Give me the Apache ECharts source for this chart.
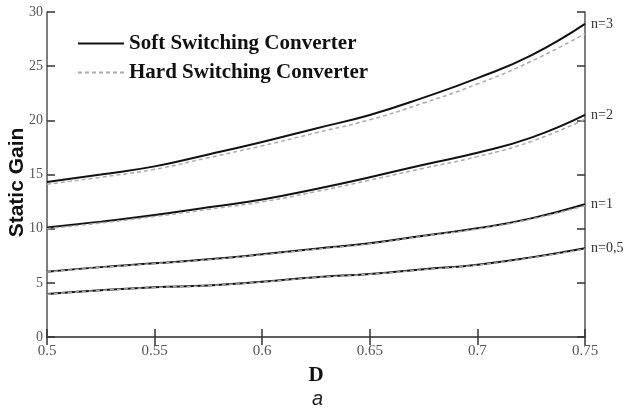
<!DOCTYPE html>
<html>
<head>
<meta charset="utf-8">
<script src="https://cdn.jsdelivr.net/npm/echarts@6/dist/echarts.min.js"></script>
<style>html,body{margin:0;padding:0;background:#fff}#c{width:624px;height:414px}</style>
</head>
<body>
<div id="c"></div>
<script>
var D = [0.5, 0.525, 0.55, 0.575, 0.6, 0.625, 0.65, 0.675, 0.7, 0.725, 0.75];
var softN05 = [3.97, 4.32, 4.59, 4.76, 5.1, 5.52, 5.82, 6.25, 6.68, 7.35, 8.2];
var softN1  = [6.03, 6.45, 6.8, 7.17, 7.63, 8.15, 8.65, 9.35, 10.03, 10.95, 12.25];
var softN2  = [10.1, 10.65, 11.26, 11.97, 12.7, 13.67, 14.75, 15.9, 17.0, 18.4, 20.5];
var softN3  = [14.3, 15.0, 15.75, 16.85, 18.0, 19.25, 20.5, 22.1, 23.9, 26.0, 28.9];
var hardN05 = [3.95, 4.3, 4.57, 4.74, 5.07, 5.49, 5.79, 6.21, 6.64, 7.3, 8.12];
var hardN1  = [6.0, 6.42, 6.77, 7.13, 7.59, 8.1, 8.6, 9.3, 9.97, 10.88, 12.12];
var hardN2  = [10.0, 10.52, 11.12, 11.78, 12.48, 13.42, 14.48, 15.58, 16.65, 18.05, 20.1];
var hardN3  = [14.1, 14.75, 15.48, 16.55, 17.65, 18.85, 20.05, 21.6, 23.35, 25.45, 28.0];
var nLabels = ['n=0,5', 'n=1', 'n=2', 'n=3'];

function pairs(ys){ return D.map(function(d,i){ return [d, ys[i]]; }); }

var SOFT = 'Soft Switching Converter', HARD = 'Hard Switching Converter';
var softs = [softN05, softN1, softN2, softN3];
var hards = [hardN05, hardN1, hardN2, hardN3];
var series = [];
softs.forEach(function(s, k){
  series.push({
    name: SOFT, type: 'line', data: pairs(s), smooth: true, showSymbol: false, symbol: 'none',
    lineStyle: {color: '#111', width: 2}, itemStyle: {color: '#111'}, z: 2,
    endLabel: {show: true, formatter: nLabels[k], distance: 6,
      fontFamily: 'Liberation Serif', fontSize: 14, color: '#333'}
  });
});
hards.forEach(function(s){
  series.push({
    name: HARD, type: 'line', data: pairs(s), smooth: true, showSymbol: false, symbol: 'none',
    lineStyle: {color: '#aaa', width: 1.5, type: [4, 3]}, itemStyle: {color: '#aaa'}, z: 3
  });
});

var axisLine = {show: true, lineStyle: {color: '#555', width: 1.5}};
var chart = echarts.init(document.getElementById('c'), null, {renderer: 'canvas'});
chart.setOption({
  animation: false,
  backgroundColor: '#fff',
  grid: {left: 47, right: 39, top: 12, bottom: 77, outerBoundsMode: 'none', containLabel: false},
  legend: {
    left: 77, top: 33, padding: 0, orient: 'vertical', itemGap: 8,
    itemWidth: 46, itemHeight: 14,
    itemStyle: {opacity: 0},
    data: [SOFT, HARD],
    textStyle: {fontFamily: 'Liberation Serif', fontWeight: 'bold', fontSize: 21, color: '#111'}
  },
  xAxis: [{
    type: 'value', min: 0.5, max: 0.75, interval: 0.05, position: 'bottom',
    name: 'D', nameLocation: 'middle', nameGap: 28, nameMoveOverlap: false,
    nameTextStyle: {fontFamily: 'Liberation Serif', fontWeight: 'bold', fontSize: 21, color: '#111'},
    axisLine: axisLine,
    axisTick: {show: true, inside: true, length: 8, lineStyle: {color: '#333', width: 1.5}},
    axisLabel: {fontFamily: 'Liberation Serif', fontSize: 15, color: '#555', margin: 7,
      formatter: function(v){ return String(+v.toFixed(2)); }},
    splitLine: {show: false}
  }, {
    type: 'value', min: 0.5, max: 0.75, interval: 0.05, position: 'top',
    axisLine: axisLine,
    axisTick: {show: true, inside: true, length: 8, lineStyle: {color: '#333', width: 1.5}},
    axisLabel: {show: false}, splitLine: {show: false}
  }],
  yAxis: [{
    type: 'value', min: 0, max: 30, interval: 5, position: 'left',
    name: 'Static Gain', nameLocation: 'middle', nameGap: 19, nameRotate: 90, nameMoveOverlap: false,
    nameTextStyle: {fontFamily: 'Liberation Sans', fontWeight: 'bold', fontSize: 21, color: '#111',
      padding: [0, 16, 0, 0]},
    axisLine: axisLine,
    axisTick: {show: true, inside: true, length: 8, lineStyle: {color: '#333', width: 1.5}},
    axisLabel: {fontFamily: 'Liberation Serif', fontSize: 14, color: '#555', margin: 4},
    splitLine: {show: false}
  }, {
    type: 'value', min: 0, max: 30, interval: 5, position: 'right',
    axisLine: axisLine,
    axisTick: {show: true, inside: true, length: 8, lineStyle: {color: '#333', width: 1.5}},
    axisLabel: {show: false}, splitLine: {show: false}
  }],
  graphic: [{
    type: 'text', left: 312, top: 389,
    style: {text: 'a', fontFamily: 'Liberation Sans', fontStyle: 'italic', fontSize: 20, fill: '#222'}
  }],
  series: series
});
</script>
</body>
</html>
